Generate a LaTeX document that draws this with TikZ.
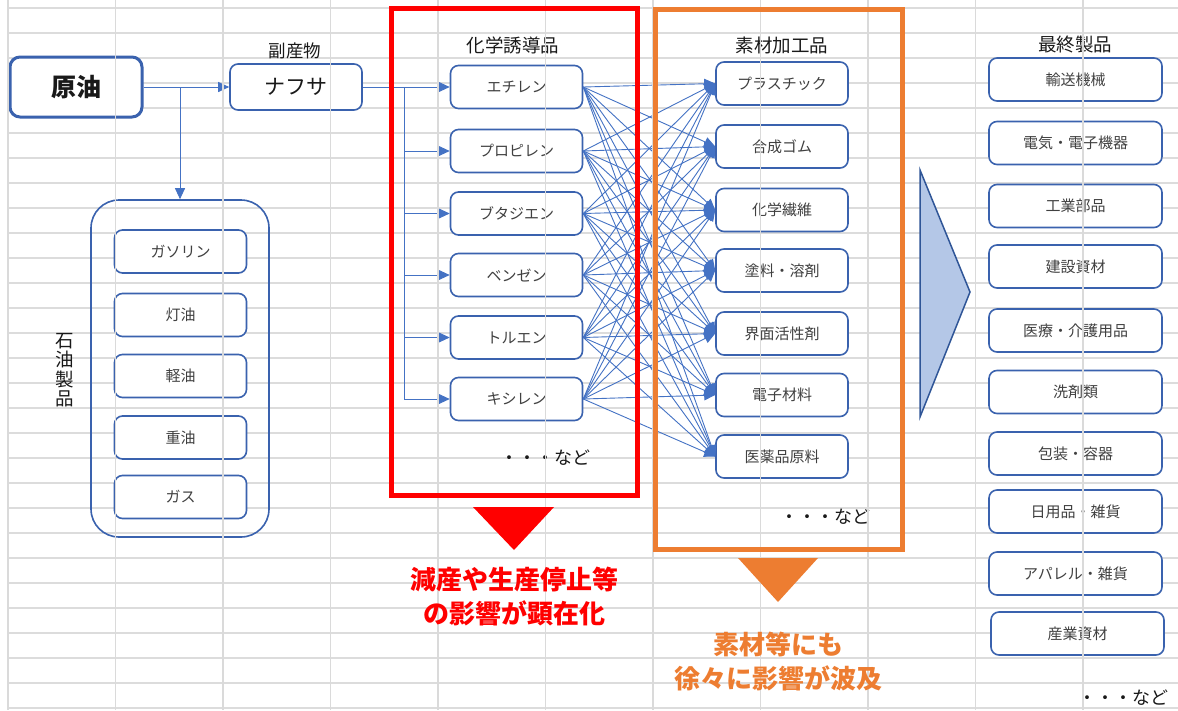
\documentclass[tikz,border=0pt]{standalone}
\usepackage{fontspec}
\setmainfont{Noto Sans CJK JP}
\usetikzlibrary{arrows.meta}
\definecolor{gridc}{HTML}{DCDCDC}
\definecolor{gridv}{HTML}{DADADA}
\definecolor{boxc}{HTML}{3A62AE}
\definecolor{conc}{HTML}{4472C4}
\definecolor{orng}{HTML}{ED7D31}
\definecolor{txtc}{HTML}{404040}
\definecolor{tri}{HTML}{B4C7E7}
\definecolor{trib}{HTML}{2F5597}
\begin{document}
\begin{tikzpicture}[x=1pt,y=-1pt,
  box/.style={draw=boxc, line width=1.6pt, rounded corners=8pt, fill=white,
    minimum width=132pt, minimum height=43pt, inner sep=0pt,
    font=\fontsize{15}{17}\selectfont, text=txtc},
  fbox/.style={box, minimum width=173pt},
  conn/.style={draw=conc, line width=0.9pt, -{Triangle[length=11pt,width=10pt]}},
  lbl/.style={font=\fontsize{18.5}{21}\selectfont, text=black!90, inner sep=0pt},
  etc/.style={font=\fontsize{18}{21}\selectfont, text=black!90, inner sep=0pt},
  bigtxt/.style={font=\fontsize{26}{34}\selectfont\bfseries, align=center, inner sep=0pt},
]
\useasboundingbox (0,0) rectangle (1178,710);
\fill[white] (0,0) rectangle (1178,710);
% horizontal grid
\foreach \k in {0,...,28} {
  \draw[gridc, line width=1.8pt] (8,8+25*\k) -- (1178,8+25*\k);
}

% crude and naphtha
\node[box, minimum width=132pt, minimum height=60pt, line width=3pt, rounded corners=10pt,
      font=\fontsize{25}{28}\selectfont\bfseries, text=black!90] (crude) at (76,87) {原油};
\node[box, minimum height=46pt, font=\fontsize{21}{24}\selectfont, text=black!90] (naph) at (296,87) {ナフサ};
\node[lbl, font=\fontsize{17.5}{20}\selectfont] (lbp) at (295,51) {副産物};

% petroleum products
\node[draw=boxc, line width=1.6pt, rounded corners=28pt, minimum width=178pt,
      minimum height=337pt, inner sep=0pt] (pp) at (180,368.5) {};
\node[box] (g1) at (180.5,251.5) {ガソリン};
\node[box] (g2) at (180.5,315) {灯油};
\node[box] (g3) at (180.5,376) {軽油};
\node[box] (g4) at (180.5,437.5) {重油};
\node[box] (g5) at (180.5,497) {ガス};
\node[font=\fontsize{18.5}{19.5}\selectfont, text=black!90, align=center, inner sep=0pt]
      (lpp) at (65,370) {石\\油\\製\\品};

% chemical derivatives
\node[lbl] (lchem) at (513,45) {化学誘導品};
\node[box] (c1) at (516.5,87) {エチレン};
\node[box] (c2) at (516.5,151) {プロピレン};
\node[box] (c3) at (516.5,213.5) {ブタジエン};
\node[box] (c4) at (516.5,275) {ベンゼン};
\node[box] (c5) at (516.5,337.5) {トルエン};
\node[box] (c6) at (516.5,399) {キシレン};
\node[etc] (e1) at (545,458) {・・・など};

% materials
\node[lbl] (lmat) at (782,45) {素材加工品};
\node[box] (m1) at (782,83.5) {プラスチック};
\node[box] (m2) at (782,146.5) {合成ゴム};
\node[box] (m3) at (782,210) {化学繊維};
\node[box] (m4) at (782,270.5) {塗料・溶剤};
\node[box] (m5) at (782,333.5) {界面活性剤};
\node[box] (m6) at (782,395) {電子材料};
\node[box] (m7) at (782,456.5) {医薬品原料};
\node[etc] (e2) at (825,517) {・・・など};

% final products
\node[lbl] (lfin) at (1075,45) {最終製品};
\node[fbox] (f1) at (1075.5,79.5) {輸送機械};
\node[fbox] (f2) at (1075.5,143) {電気・電子機器};
\node[fbox] (f3) at (1075.5,206) {工業部品};
\node[fbox] (f4) at (1075.5,266.5) {建設資材};
\node[fbox] (f5) at (1075.5,330.5) {医療・介護用品};
\node[fbox] (f6) at (1075.5,392) {洗剤類};
\node[fbox] (f7) at (1075.5,453.5) {包装・容器};
\node[fbox] (f8) at (1075.5,511.5) {日用品・雑貨};
\node[fbox] (f9) at (1075.5,573.5) {アパレル・雑貨};
\node[fbox] (f10) at (1077.5,633.5) {産業資材};
\node[etc] (e3) at (1123,698) {・・・など};

% connectors
\coordinate (br) at (180,87);
\coordinate (bus) at (404,87);
\draw[conn] (crude.east) -- (naph.west);
\draw[conn] (br) -- (pp.north);
\draw[conn] (naph.east) -- (c1.west);
\draw[draw=conc, line width=0.9pt] (bus) -- (bus |- c6.west);
\foreach \i in {2,...,6} {
  \draw[conn] (bus |- c\i.west) -- (c\i.west);
}
\foreach \i in {1,...,6} {
  \foreach \j in {1,...,7} {
    \draw[conn] (c\i.east) -- (m\j.west);
  }
}

% vertical grid
\foreach \k in {0,...,11} {
  \draw[gridv, line width=1.3pt] (8+107.5*\k,0) -- (8+107.5*\k,710);
}

% frames
\draw[red, line width=5pt] (391,8) rectangle (637,495);
\draw[orng, line width=5pt] (655.5,9.5) rectangle (902.5,549);

% triangles
\fill[red] (473,507) -- (554,507) -- (514,550) -- cycle;
\fill[orng] (738,558) -- (818,558) -- (778,602) -- cycle;
\draw[trib, fill=tri, line width=1.5pt] (920,170) -- (970,292) -- (920,417) -- cycle;

% impact texts
\node[bigtxt, text=red] (rt) at (514,596) {減産や生産停止等\\の影響が顕在化};
\node[bigtxt, text=orng] (ot) at (778,661) {素材等にも\\徐々に影響が波及};
\end{tikzpicture}
\end{document}
